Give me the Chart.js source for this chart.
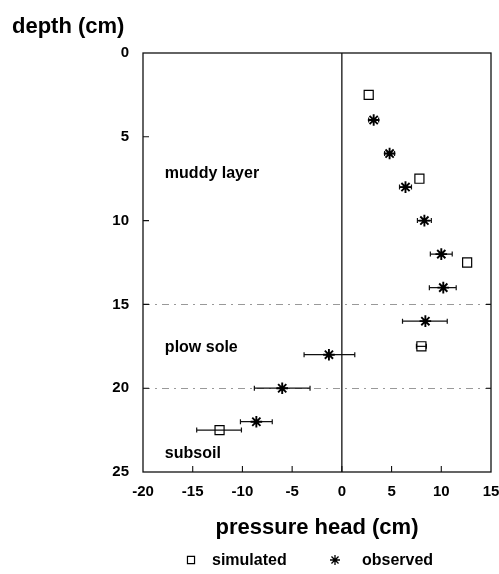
<!DOCTYPE html>
<html lang="en">
<head>
<meta charset="UTF-8">
<title>Pressure head profile</title>
<script src="https://cdn.jsdelivr.net/npm/chart.js"></script>
<style>
  body { margin: 0; background: #fff; }
  #wrap { width: 499px; height: 574px; }
</style>
</head>
<body>
<div id="wrap"><canvas id="profile" width="499" height="574"></canvas></div>
<script>
// simulated pressure head vs depth
const simDepth = [2.5, 7.5, 12.5, 17.5, 22.5];
const simHead  = [2.7, 7.8, 12.6, 8.0, -12.3];
const simLow   = [null, null, null, 7.5, -14.6];
const simHigh  = [null, null, null, 8.5, -10.1];

// observed pressure head (with range)
const obsDepth = [4, 6, 8, 10, 12, 14, 16, 18, 20, 22];
const obsHead  = [3.2, 4.8, 6.4, 8.3, 10.0, 10.2, 8.4, -1.3, -6.0, -8.6];
const obsLow   = [2.7, 4.3, 5.8, 7.6, 8.9, 8.8, 6.1, -3.8, -8.8, -10.2];
const obsHigh  = [3.7, 5.3, 7.0, 9.0, 11.1, 11.5, 10.6, 1.3, -3.2, -7.0];

const xTicks = [-20, -15, -10, -5, 0, 5, 10, 15];
const yTicks = [0, 5, 10, 15, 20, 25];
const layerBounds = [15, 20];
const layerNames = ['muddy layer', 'plow sole', 'subsoil'];
const layerLabelDepth = [7.2, 17.6, 23.9];

const FONT = '"Liberation Sans", Arial, Helvetica, sans-serif';

function pts(xs, ys) {
    return xs.map((x, i) => ({ x: x, y: ys[i] }));
}

// legend symbols, drawn like the chart points
function symbol(ctx, style, x, y, r) {
    ctx.beginPath();
    if (style === 'rect') {
        const s = r * Math.SQRT1_2;
        ctx.rect(x - s, y - s, 2 * s, 2 * s);
    } else {
        for (let k = 0; k < 4; k++) {
            const ang = k * Math.PI / 4;
            ctx.moveTo(x - r * Math.sin(ang), y - r * Math.cos(ang));
            ctx.lineTo(x + r * Math.sin(ang), y + r * Math.cos(ang));
        }
    }
    ctx.stroke();
}

const profilePlugin = {
    id: 'profile',
    beforeDatasetsDraw(chart) {
        const ctx = chart.ctx;
        const a = chart.chartArea;
        const xs = chart.scales.x, ys = chart.scales.y;
        ctx.save();
        // layer boundaries
        ctx.strokeStyle = '#999';
        ctx.lineWidth = 1;
        ctx.setLineDash([7, 5, 2, 5]);
        layerBounds.forEach(d => {
            const y = Math.round(ys.getPixelForValue(d)) + 0.5;
            ctx.beginPath();
            ctx.moveTo(a.left, y);
            ctx.lineTo(a.right, y);
            ctx.stroke();
        });
        ctx.setLineDash([]);
        // zero line
        ctx.strokeStyle = '#111';
        ctx.lineWidth = 1.3;
        const x0 = xs.getPixelForValue(0);
        ctx.beginPath();
        ctx.moveTo(x0, a.top);
        ctx.lineTo(x0, a.bottom);
        ctx.stroke();
        // frame
        ctx.strokeRect(a.left, a.top, a.right - a.left, a.bottom - a.top);
        // inward ticks
        ctx.lineWidth = 1.1;
        ctx.beginPath();
        yTicks.slice(1, -1).forEach(v => {
            const y = ys.getPixelForValue(v);
            ctx.moveTo(a.left, y); ctx.lineTo(a.left + 6, y);
        });
        layerBounds.forEach(v => {
            const y = ys.getPixelForValue(v);
            ctx.moveTo(a.right, y); ctx.lineTo(a.right - 5, y);
        });
        xTicks.slice(1, -1).forEach(v => {
            const x = xs.getPixelForValue(v);
            ctx.moveTo(x, a.bottom); ctx.lineTo(x, a.bottom - 6);
        });
        ctx.stroke();
        // error bars
        ctx.lineWidth = 1.2;
        const bars = (depth, lo, hi) => {
            depth.forEach((d, i) => {
                if (lo[i] == null) return;
                const y = ys.getPixelForValue(d);
                const l = xs.getPixelForValue(lo[i]);
                const r = xs.getPixelForValue(hi[i]);
                ctx.beginPath();
                ctx.moveTo(l, y); ctx.lineTo(r, y);
                ctx.moveTo(l, y - 2.5); ctx.lineTo(l, y + 2.5);
                ctx.moveTo(r, y - 2.5); ctx.lineTo(r, y + 2.5);
                ctx.stroke();
            });
        };
        bars(simDepth, simLow, simHigh);
        bars(obsDepth, obsLow, obsHigh);
        // layer names
        ctx.fillStyle = '#000';
        ctx.font = 'bold 16px ' + FONT;
        ctx.textBaseline = 'middle';
        ctx.textAlign = 'left';
        layerNames.forEach((n, i) => {
            ctx.fillText(n, xs.getPixelForValue(-17.8), ys.getPixelForValue(layerLabelDepth[i]));
        });
        ctx.restore();
    },
    afterDraw(chart) {
        const ctx = chart.ctx;
        const a = chart.chartArea;
        ctx.save();
        ctx.fillStyle = '#000';
        // y axis title at top-left
        ctx.font = 'bold 22px ' + FONT;
        ctx.textBaseline = 'alphabetic';
        ctx.textAlign = 'left';
        ctx.fillText('depth (cm)', 12, 33);
        // legend
        const ly = 560;
        const cx = (a.left + a.right) / 2;
        ctx.font = 'bold 16px ' + FONT;
        ctx.textBaseline = 'middle';
        const starts = [cx - 126, cx + 18];
        const gaps = [21, 27];
        chart.data.datasets.forEach((ds, i) => {
            const sx = starts[i];
            ctx.strokeStyle = '#000';
            ctx.lineWidth = ds.legendWidth;
            symbol(ctx, ds.pointStyle, sx, ly, ds.legendRadius);
            ctx.fillText(ds.label, sx + gaps[i], ly + 1);
        });
        ctx.restore();
    }
};

new Chart(document.getElementById('profile'), {
    type: 'scatter',
    data: {
        datasets: [
            {
                label: 'simulated',
                data: pts(simHead, simDepth),
                pointStyle: 'rect',
                pointRadius: 6.4,
                pointBorderWidth: 1.2,
                legendWidth: 1.2,
                legendRadius: 5,
                pointBorderColor: '#000',
                pointBackgroundColor: 'rgba(255,255,255,0)'
            },
            {
                label: 'observed',
                data: pts(obsHead, obsDepth),
                pointStyle: 'star',
                pointRadius: 5.8,
                pointBorderWidth: 1.9,
                legendWidth: 1.3,
                legendRadius: 5,
                pointBorderColor: '#000',
                pointBackgroundColor: '#000'
            }
        ]
    },
    options: {
        responsive: false,
        animation: false,
        layout: { padding: { left: 0, top: 53, right: 8, bottom: 27 } },
        plugins: {
            legend: { display: false },
            tooltip: { enabled: false }
        },
        scales: {
            x: {
                type: 'linear',
                min: -20,
                max: 15,
                afterBuildTicks: s => { s.ticks = xTicks.map(v => ({ value: v })); },
                afterFit: s => { s.height = 75; s.paddingRight = 0; s.paddingLeft = 0; },
                ticks: {
                    autoSkip: false,
                    maxRotation: 0,
                    padding: 11,
                    color: '#000',
                    font: { family: FONT, size: 15, weight: 'bold' },
                    callback: v => String(v)
                },
                grid: { display: false, drawTicks: false },
                border: { display: false },
                title: {
                    display: true,
                    text: 'pressure head (cm)',
                    color: '#000',
                    font: { family: FONT, size: 22, weight: 'bold' },
                    padding: { top: 4, bottom: 6 }
                }
            },
            y: {
                type: 'linear',
                min: 0,
                max: 25,
                reverse: true,
                afterBuildTicks: s => { s.ticks = yTicks.map(v => ({ value: v })); },
                afterFit: s => { s.width = 143; s.paddingTop = 0; s.paddingBottom = 0; },
                ticks: {
                    autoSkip: false,
                    padding: 14,
                    color: '#000',
                    font: { family: FONT, size: 15, weight: 'bold' }
                },
                grid: { display: false, drawTicks: false },
                border: { display: false }
            }
        }
    },
    plugins: [profilePlugin]
});
</script>
</body>
</html>
